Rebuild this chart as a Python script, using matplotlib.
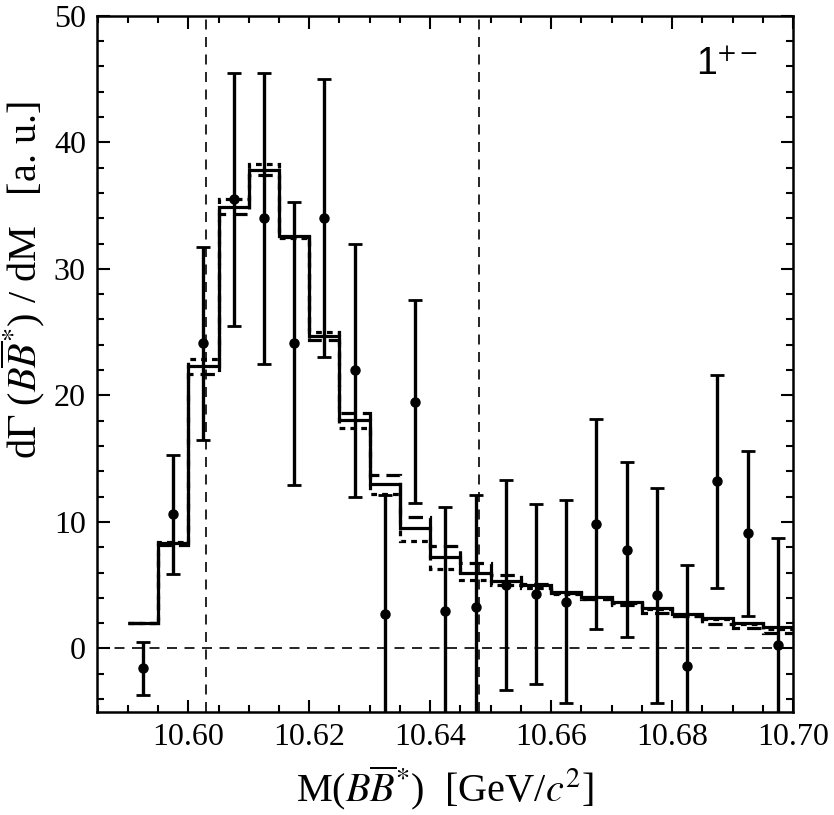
#---------import---------#
import numpy as np
import matplotlib
matplotlib.use('Agg')
import matplotlib.pyplot as plt
from matplotlib.ticker import MultipleLocator
#------------------------#


#----------Data----------#
# bin centres of the measured points / histogram bins [GeV/c^2]
mass = [10.5925, 10.5975, 10.6025, 10.6075, 10.6125, 10.6175, 10.6225, 10.6275,
        10.6325, 10.6375, 10.6425, 10.6475, 10.6525, 10.6575, 10.6625, 10.6675,
        10.6725, 10.6775, 10.6825, 10.6875, 10.6925, 10.6975]
bin_width = 0.005

data_val = [-1.55, 10.6, 24.1, 35.5, 34.0, 24.1, 34.0, 22.0, 2.7, 19.5, 3.0,
            3.3, 5.0, 4.3, 3.7, 9.8, 7.8, 4.2, -1.4, 13.2, 9.1, 0.3]
data_err = [2.1, 4.7, 7.6, 10.0, 11.5, 11.2, 11.0, 10.0, 9.4, 8.0, 8.2,
            8.8, 8.3, 7.1, 8.0, 8.3, 6.9, 8.5, 8.0, 8.4, 6.5, 8.4]

fit_solid = [2.0, 8.3, 22.3, 34.9, 37.8, 32.6, 24.7, 18.05, 13.0, 9.5, 7.2,
             6.0, 5.3, 5.0, 4.5, 4.1, 3.7, 3.2, 2.75, 2.4, 2.0, 1.7]
fit_dashed = [2.0, 8.2, 21.7, 34.3, 37.4, 32.5, 24.4, 18.6, 13.7, 10.4, 8.1,
              6.75, 5.8, 5.1, 4.4, 3.9, 3.4, 2.8, 2.6, 1.9, 1.6, 1.25]
fit_dotted = [2.0, 8.4, 22.9, 35.5, 38.3, 32.4, 25.0, 17.45, 12.2, 8.5, 6.3,
              5.4, 5.0, 4.75, 4.3, 3.9, 3.6, 3.1, 2.6, 2.3, 1.9, 1.5]

thresholds = [10.603, 10.648]
#------------------------#


#------Setting_font------#
plt.rcParams['font.family'] = ['Liberation Serif', 'DejaVu Serif']
plt.rcParams['mathtext.fontset'] = 'stix'
#------------------------#


#--------Plotting--------#
edges = np.append(np.array(mass) - bin_width / 2, mass[-1] + bin_width / 2)

fig = plt.figure(figsize=(8.34, 8.15), dpi=100)
ax = fig.add_axes([0.1163, 0.1267, 0.8345, 0.854])

ax.stairs(fit_solid, edges, baseline=None, color='k', lw=2.3, linestyle='-')
ax.stairs(fit_dashed, edges, baseline=None, color='k', lw=2.3,
          linestyle=(0, (4.5, 2.2)))
ax.stairs(fit_dotted, edges, baseline=None, color='k', lw=2.3,
          linestyle=(0, (1.8, 1.6)))

ax.errorbar(mass, data_val, yerr=data_err, fmt='o', color='k', ms=6.5,
            elinewidth=2.4, capsize=5, capthick=2)

for t in thresholds:
    ax.axvline(t, color='k', lw=1.2, linestyle=(0, (6, 4.5)))
ax.axhline(0, color='k', lw=1.2, linestyle=(0, (6, 4.5)))

ax.set_xlim(10.5849, 10.70)
ax.set_ylim(-5, 50)
#------------------------#


#------Axis_style--------#
ax.xaxis.set_major_locator(MultipleLocator(0.02))
ax.xaxis.set_minor_locator(MultipleLocator(0.005))
ax.yaxis.set_major_locator(MultipleLocator(10))
ax.yaxis.set_minor_locator(MultipleLocator(2))
ax.xaxis.set_major_formatter(plt.FuncFormatter(lambda v, p: '%.2f' % v))
ax.tick_params(which='both', direction='in', top=True, right=True, width=1.5)
ax.tick_params(which='major', length=9, labelsize=23, pad=8)
ax.tick_params(which='minor', length=5)
for s in ax.spines.values():
    s.set_linewidth(1.8)

ax.set_xlabel(r'M($B\overline{B}^{*}$)  [GeV/$c^{2}$]', fontsize=29)
ax.xaxis.set_label_coords(0.5, -0.075)
ax.set_ylabel(r'd$\Gamma$ ($B\overline{B}^{*}$) / dM   [a. u.]', fontsize=29)
ax.yaxis.set_label_coords(-0.07, 0.62)

ax.text(0.86, 0.93, r'1$^{+-}$', transform=ax.transAxes, fontsize=27,
        family='Liberation Sans', ha='left', va='center')
#------------------------#


#--------Save_img--------#
fig.savefig('out.png', dpi=100)
#------------------------#
